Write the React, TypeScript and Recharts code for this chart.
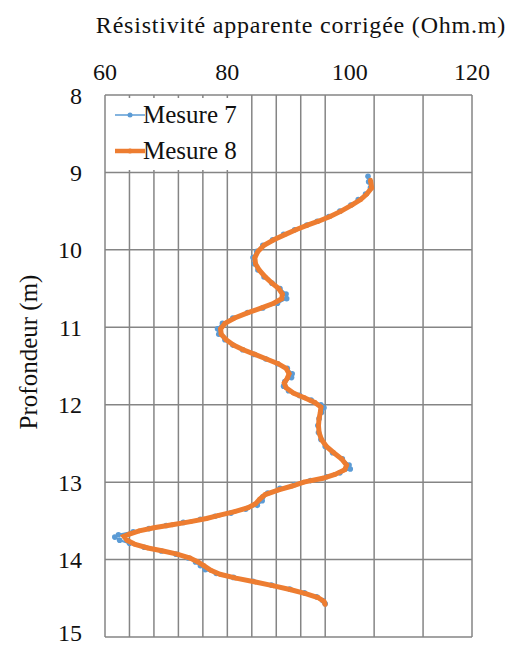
import React from 'react';
import { ScatterChart, Scatter, XAxis, YAxis, CartesianGrid, Legend } from 'recharts';

const xTicks = [60, 80, 100, 120];
const yTicks = [8, 9, 10, 11, 12, 13, 14, 15];
const xGrid = [60, 64, 68, 72, 76, 80, 84, 88, 92, 96, 100, 104, 108, 112, 116, 120];

const title = 'Résistivité apparente corrigée (Ohm.m)';
const yTitle = 'Profondeur (m)';
const seriesNames = ['Mesure 7', 'Mesure 8'];
const seriesColors = ['#5B9BD5', '#ED7D31'];

const depth7 = [9.05, 9.12, 9.20, 9.28, 9.35, 9.42, 9.50, 9.57, 9.63, 9.68, 9.74, 9.80, 9.87, 9.94, 10.02, 10.10, 10.18, 10.26, 10.35, 10.43, 10.50, 10.57, 10.63, 10.69, 10.75, 10.81, 10.88, 10.95, 11.02, 11.09, 11.16, 11.23, 11.29, 11.35, 11.41, 11.47, 11.53, 11.60, 11.65, 11.70, 11.76, 11.82, 11.88, 11.94, 12.00, 12.04, 12.10, 12.18, 12.27, 12.36, 12.45, 12.54, 12.62, 12.70, 12.78, 12.83, 12.88, 12.93, 12.98, 13.03, 13.08, 13.14, 13.19, 13.24, 13.30, 13.35, 13.40, 13.44, 13.48, 13.52, 13.56, 13.60, 13.64, 13.68, 13.71, 13.75, 13.79, 13.84, 13.89, 13.93, 13.98, 14.03, 14.08, 14.13, 14.18, 14.23, 14.28, 14.33, 14.38, 14.43, 14.48, 14.53, 14.57];
const value7 = [103.0, 103.1, 103.4, 102.6, 101.4, 100.2, 98.4, 96.6, 94.7, 93.0, 91.0, 89.2, 87.4, 85.8, 84.8, 84.2, 84.4, 85.0, 86.0, 87.3, 88.6, 89.6, 89.7, 88.2, 85.8, 83.3, 80.9, 79.2, 78.4, 78.6, 79.6, 80.9, 82.5, 84.4, 86.3, 88.2, 89.8, 90.6, 90.5, 89.4, 89.2, 90.0, 91.8, 93.7, 95.3, 95.8, 95.4, 95.0, 94.8, 94.9, 95.3, 96.0, 97.2, 98.8, 99.9, 100.1, 98.4, 96.2, 93.6, 91.0, 88.6, 86.6, 85.8, 85.7, 84.9, 83.0, 80.6, 78.0, 75.6, 72.8, 70.0, 67.2, 64.6, 62.2, 61.6, 62.4, 64.0, 66.4, 69.2, 71.6, 73.6, 74.8, 75.6, 76.4, 78.2, 81.0, 84.2, 87.2, 90.2, 92.6, 94.6, 95.6, 96.0];

const depth8 = [9.10, 9.20, 9.28, 9.35, 9.42, 9.50, 9.57, 9.63, 9.68, 9.74, 9.80, 9.87, 9.94, 10.02, 10.10, 10.18, 10.26, 10.35, 10.43, 10.50, 10.57, 10.63, 10.69, 10.75, 10.81, 10.88, 10.95, 11.02, 11.09, 11.16, 11.23, 11.29, 11.35, 11.41, 11.47, 11.53, 11.60, 11.66, 11.72, 11.78, 11.85, 11.91, 11.97, 12.03, 12.10, 12.18, 12.27, 12.36, 12.45, 12.54, 12.62, 12.70, 12.78, 12.84, 12.90, 12.95, 13.00, 13.05, 13.10, 13.16, 13.22, 13.28, 13.33, 13.38, 13.43, 13.47, 13.51, 13.55, 13.59, 13.63, 13.67, 13.70, 13.75, 13.80, 13.85, 13.89, 13.93, 13.98, 14.03, 14.08, 14.14, 14.19, 14.24, 14.29, 14.34, 14.39, 14.44, 14.49, 14.54, 14.58];
const value8 = [103.4, 103.6, 102.8, 101.8, 100.4, 98.6, 96.8, 94.9, 93.1, 91.2, 89.5, 87.6, 86.0, 85.0, 84.5, 84.6, 85.2, 86.2, 87.3, 88.4, 89.0, 88.9, 87.6, 85.6, 83.4, 81.2, 79.6, 78.9, 79.0, 79.8, 81.0, 82.6, 84.5, 86.4, 88.3, 89.6, 90.1, 89.8, 89.3, 89.6, 90.8, 92.6, 94.3, 95.3, 95.2, 95.0, 94.9, 95.0, 95.4, 96.2, 97.4, 98.7, 99.5, 99.2, 97.6, 95.6, 92.5, 90.6, 88.4, 86.2, 85.3, 84.6, 83.4, 81.2, 78.6, 76.6, 74.0, 71.0, 68.0, 65.6, 64.0, 63.1, 63.6, 64.8, 67.0, 69.5, 71.8, 73.9, 75.2, 76.2, 77.3, 78.8, 81.4, 84.6, 87.6, 90.4, 92.8, 94.8, 95.8, 96.0];

const data7 = depth7.map((d, i) => ({ x: value7[i], y: d }));
const data8 = depth8.map((d, i) => ({ x: value8[i], y: d }));

const FONT = '"Liberation Serif", "Noto Serif", "DejaVu Serif", "FreeSerif", "Nimbus Roman", Tinos, Times, serif';

const dot = (color: string, r: number) => (props: any) => (
  <circle cx={props.cx} cy={props.cy} r={r} fill={color} stroke="none" />
);

const LegendBox = () => (
  <div style={{ position: 'relative', width: 143, height: 72, background: '#fff', fontFamily: FONT }}>
    {seriesNames.map((name, i) => (
      <div key={name} style={{ position: 'absolute', left: 0, top: i === 0 ? 2 : 38, height: 30, width: 143 }}>
        <svg width={36} height={30} style={{ position: 'absolute', left: 6, top: 0 }}>
          <line x1={3} y1={15} x2={33} y2={15} stroke={seriesColors[i]} strokeWidth={i === 0 ? 1.5 : 4.5} />
          <circle cx={18} cy={15} r={2.5} fill={seriesColors[i]} />
        </svg>
        <span style={{ position: 'absolute', left: 37, top: 0, lineHeight: '30px', fontSize: 25, color: '#111', whiteSpace: 'nowrap', fontFamily: FONT }}>{name}</span>
      </div>
    ))}
  </div>
);

const TitleLabel = () => (
  <text x={293} y={25} textAnchor="middle" fontSize={24} fill="#111" style={{ letterSpacing: 0.8, fontFamily: FONT }}>{title}</text>
);

const YTitleLabel = () => (
  <text x={20} y={344} textAnchor="middle" dominantBaseline="central" transform="rotate(-90, 20, 344)" fontSize={25} fill="#111" style={{ fontFamily: FONT }}>{yTitle}</text>
);

export default function App() {
  return (
    <div style={{ width: 507, height: 638, fontFamily: FONT }}>
      <ScatterChart width={507} height={638} margin={{ top: 0, right: 43, bottom: 9, left: 0 }} style={{ fontFamily: FONT }}>
        <CartesianGrid stroke="#858585" strokeWidth={1.5} verticalValues={xGrid} horizontalValues={yTicks} />
        <XAxis
          type="number"
          dataKey="x"
          orientation="top"
          domain={[60, 120]}
          ticks={xTicks}
          height={87}
          axisLine={false}
          tickLine={false}
          tickMargin={9}
          allowDataOverflow
          tick={{ fontSize: 24, fill: '#111', style: { fontFamily: FONT } }}
          label={<TitleLabel />}
        />
        <YAxis
          type="number"
          dataKey="y"
          domain={[8, 15]}
          ticks={yTicks}
          reversed
          width={97}
          axisLine={false}
          tickLine={false}
          tickMargin={17}
          allowDataOverflow
          tick={{ fontSize: 24, fill: '#111', style: { fontFamily: FONT } }}
          label={<YTitleLabel />}
        />
        <Legend
          layout="vertical"
          align="center"
          verticalAlign="middle"
          content={<LegendBox />}
          wrapperStyle={{ left: 98, top: 90, width: 143, height: 72, right: 'auto', bottom: 'auto' }}
        />
        <Scatter
          name={seriesNames[0]}
          data={data7}
          line={{ stroke: seriesColors[0], strokeWidth: 2 }}
          lineType="joint"
          shape={dot(seriesColors[0], 2.8)}
          isAnimationActive={false}
        />
        <Scatter
          name={seriesNames[1]}
          data={data8}
          line={{ stroke: seriesColors[1], strokeWidth: 5 }}
          lineType="joint"
          shape={dot(seriesColors[1], 2.4)}
          isAnimationActive={false}
        />
      </ScatterChart>
    </div>
  );
}
